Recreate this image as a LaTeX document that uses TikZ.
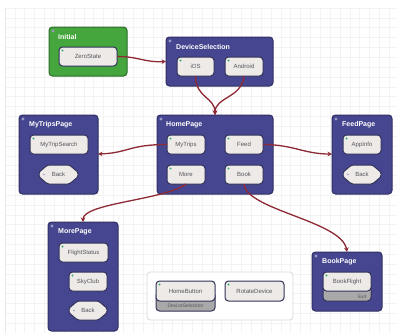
\documentclass[tikz,border=0pt]{standalone}
\usepackage{fontspec}
\setmainfont{Liberation Sans}
\usetikzlibrary{arrows.meta,calc,shapes.misc}
\definecolor{pagefill}{HTML}{46458F}
\definecolor{pageline}{HTML}{2F2F63}
\definecolor{initfill}{HTML}{44A63C}
\definecolor{initline}{HTML}{2C6B2A}
\definecolor{boxfill}{HTML}{EDEAE8}
\definecolor{boxline}{HTML}{33335A}
\definecolor{basefill}{HTML}{A9A9A9}
\definecolor{wire}{HTML}{8E2A35}
\definecolor{gridc}{HTML}{F3F3F3}
\definecolor{gridd}{HTML}{E8E8E8}
\definecolor{labelc}{HTML}{55555A}
\definecolor{dotg}{HTML}{3FAE7A}
\definecolor{dotp}{HTML}{9A9AC4}
\tikzset{
  x=1pt,y=-1pt,
  container/.style={draw=pageline,fill=pagefill,line width=1pt,rounded corners=3.5pt,inner sep=0pt,outer sep=0pt},
  greenbox/.style={draw=initline,fill=initfill,line width=1pt,rounded corners=3.5pt,inner sep=0pt,outer sep=0pt},
  statebox/.style={draw=boxline,fill=boxfill,line width=1pt,rounded corners=3.5pt,inner sep=0pt,outer sep=0pt,
    text=labelc,font=\fontsize{6}{7}\selectfont},
  backbox/.style={chamfered rectangle,chamfered rectangle xsep=5pt,chamfered rectangle ysep=5pt,chamfered rectangle angle=50,
    draw=boxline,fill=boxfill,line width=1pt,inner sep=0pt,outer sep=0pt,rounded corners=1.5pt,
    text=labelc,font=\fontsize{6}{7}\selectfont},
  basebox/.style={draw=boxline,fill=basefill,line width=1pt,rounded corners=3.5pt,inner sep=0pt,outer sep=0pt},
  basetext/.style={text=black!65,font=\fontsize{5}{6}\selectfont,inner sep=0pt},
  titletext/.style={text=white,font=\fontsize{7}{8}\selectfont\bfseries,inner sep=0pt,anchor=west},
  legendbox/.style={draw=black!15,fill=white,line width=.8pt,rounded corners=3.5pt,inner sep=0pt},
  wireline/.style={draw=wire,line width=1.3pt,-{Stealth[length=4.5pt,width=4.5pt]}},
}
\newcommand{\boxat}[7]{% style,name,x0,y0,x1,y1,text
  \node[#1,minimum width=#5pt-#3pt,minimum height=#6pt-#4pt] (#2) at ({(#3+#5)/2},{(#4+#6)/2}) {#7};}
\begin{document}
\begin{tikzpicture}
\useasboundingbox (0,0) rectangle (397,333);
\fill[white] (0,0) rectangle (397,333);
\foreach \gx in {5,14.85,...,397} \draw[gridc,line width=.5pt] (\gx,8) -- (\gx,333);
\foreach \gy in {8,17.85,...,333} \draw[gridc,line width=.5pt] (5,\gy) -- (397,\gy);
\draw[gridd,line width=.6pt] (5,8) -- (5,333);

% containers
\boxat{greenbox}{Initial}{49}{27}{127}{76}{}
\boxat{container}{DeviceSelection}{166}{37}{273}{86}{}
\boxat{container}{HomePage}{157}{115}{273}{194}{}
\boxat{container}{MyTripsPage}{19}{115}{98}{194}{}
\boxat{container}{FeedPage}{332}{115}{392}{194}{}
\boxat{container}{MorePage}{48}{222}{118}{331}{}
\boxat{container}{BookPage}{312}{252}{382}{311}{}
\boxat{legendbox}{Legend}{147}{272}{293}{320}{}

% titles
\node[titletext] (tInitial) at (58,36.5) {Initial};
\node[titletext] (tDevice) at (176,46.5) {DeviceSelection};
\node[titletext] (tHome) at (166,125) {HomePage};
\node[titletext] (tMyTrips) at (29,125) {MyTripsPage};
\node[titletext] (tFeed) at (342,125) {FeedPage};
\node[titletext] (tMore) at (58,232) {MorePage};
\node[titletext] (tBook) at (322,262) {BookPage};

% grey bases
\boxat{basebox}{BookExit}{323}{283}{371}{301}{}
\boxat{basebox}{HomeBase}{156}{292}{215}{311}{}

% states
\boxat{statebox}{ZeroState}{59}{47}{117}{66}{ZeroState}
\boxat{statebox}{iOS}{177}{57}{214}{76}{iOS}
\boxat{statebox}{Android}{225}{57}{263}{76}{Android}
\boxat{statebox}{MyTrips}{167}{135}{205}{154}{MyTrips}
\boxat{statebox}{Feed}{225}{135}{263}{154}{Feed}
\boxat{statebox}{More}{167}{165}{205}{184}{More}
\boxat{statebox}{Book}{225}{165}{263}{184}{Book}
\boxat{statebox}{MyTripSearch}{30}{135}{88}{154}{MyTripSearch}
\boxat{backbox}{BackA}{39}{165}{78}{184}{Back}
\boxat{statebox}{AppInfo}{343}{135}{381}{154}{AppInfo}
\boxat{backbox}{BackB}{343}{165}{381}{184}{Back}
\boxat{statebox}{FlightStatus}{59}{243}{108}{262}{FlightStatus}
\boxat{statebox}{SkyClub}{69}{272}{107}{291}{SkyClub}
\boxat{backbox}{BackC}{69}{301}{107}{320}{Back}
\boxat{statebox}{BookFlight}{323}{272}{371}{291}{BookFlight}
\boxat{statebox}{HomeButton}{156}{281}{215}{301}{HomeButton}
\boxat{statebox}{RotateDevice}{225}{281}{284}{301}{RotateDevice}
\node[basetext] (ExitLabel) at (362,296.3) {Exit};
\node[basetext] (DevLabel) at (185.5,306) {DeviceSelection};

% corner dots
\foreach \n in {Initial,DeviceSelection,HomePage,MyTripsPage,FeedPage,MorePage,BookPage}
  \fill[dotp] ($(\n.north west)+(4,4)$) circle (1.6pt);
\foreach \n in {ZeroState,iOS,Android,MyTrips,Feed,More,Book,MyTripSearch,AppInfo,FlightStatus,SkyClub,BookFlight,HomeButton,RotateDevice}
  \fill[dotg] ($(\n.north west)+(3.5,3.5)$) circle (1.2pt);
\foreach \n in {BackA,BackB,BackC}
  \fill[dotp] ($(\n.west)+(5,0)$) circle (.9pt);

% connectors
\coordinate (TripsIn) at (98,154);
\coordinate (FeedIn) at (332,154);
\draw[wireline] (ZeroState.east) .. controls +(22,0) and +(-22,1) .. (DeviceSelection.west);
\draw[wireline] (iOS.south) .. controls +(0,22) and +(0,-18) .. (HomePage.north);
\draw[wireline] (Android.south) .. controls +(-2,22) and +(0,-18) .. (HomePage.north);
\draw[wireline] (MyTrips.west) .. controls +(-38,0) and +(30,-1) .. (TripsIn);
\draw[wireline] (Feed.east) .. controls +(30,0) and +(-28,0) .. (FeedIn);
\draw[wireline] (More.south) .. controls +(-21,16) and +(0,-19) .. (MorePage.north);
\draw[wireline] (Book.south) .. controls +(2,26) and +(-5,-31) .. (BookPage.north);
\end{tikzpicture}
\end{document}
